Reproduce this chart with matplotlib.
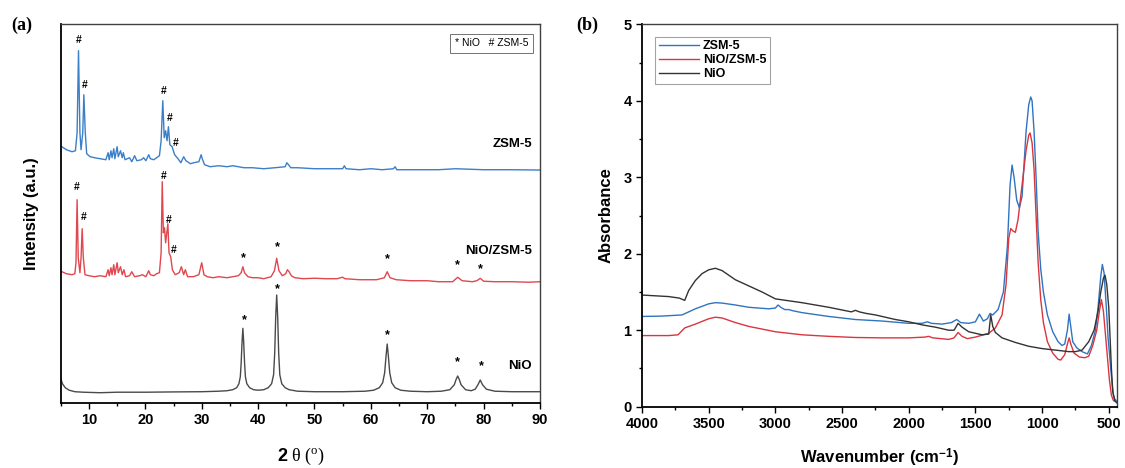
"""Two-panel figure: (a) XRD patterns, (b) FTIR spectra of ZSM-5, NiO/ZSM-5 and NiO."""
import numpy as np
import matplotlib
matplotlib.use("Agg")
import matplotlib.pyplot as plt
from matplotlib.ticker import MultipleLocator

plt.rcParams["font.family"] = ["Liberation Sans", "DejaVu Sans"]
plt.rcParams["mathtext.fontset"] = "custom"
plt.rcParams["mathtext.rm"] = "Liberation Serif"
plt.rcParams["mathtext.it"] = "Liberation Serif:italic"
plt.rcParams["mathtext.bf"] = "Liberation Sans:bold"

# ---------------- (a) XRD, 2theta (deg) vs intensity (a.u., stacked) ----------------
zsm_tt = [5.2, 6.0, 7.0, 7.6, 7.9, 8.15, 8.4, 8.6, 8.9, 9.1, 9.35, 9.6, 10.2, 11, 12, 13,
          13.4, 13.6, 13.9, 14.1, 14.4, 14.6, 15.0, 15.2, 15.6, 15.9, 16.1, 16.4, 17.2, 17.6,
          18.1, 18.5, 19.3, 19.7, 20.1, 20.6, 20.9, 21.5, 22.0, 22.5, 22.8, 23.1, 23.35, 23.6,
          23.85, 24.1, 24.35, 24.75, 25.2, 25.8, 26.3, 26.8, 27.2, 28, 28.6, 29.5, 29.9, 30.1,
          30.5, 31.5, 33, 34.5, 35.5, 36.5, 37.5, 39, 41, 43, 44.8, 45.1, 45.4, 45.8, 47, 50,
          52, 55, 55.3, 55.6, 58, 60, 62, 64, 64.3, 64.6, 68, 72, 75, 80, 85, 90]
zsm_i = [256, 253, 251, 252, 270, 352, 270, 253, 270, 308, 270, 249, 246, 245, 244, 243,
         250, 243, 252, 245, 254, 244, 256, 246, 252, 245, 250, 243, 245, 241,
         247, 242, 243, 245, 242, 248, 244, 243, 245, 247, 262, 302, 265, 272,
         262, 276, 258, 256, 248, 244, 240, 246, 242, 239, 240, 241, 248, 244,
         238, 236, 237, 236, 237, 236, 235, 235, 234, 235, 236, 240, 238, 235, 235, 234,
         234, 234, 237, 234, 233, 234, 233, 234, 236, 233, 233, 233, 234, 233, 233, 232.7]

nz_tt = [5.2, 6.0, 7.0, 7.5, 7.7, 7.9, 8.1, 8.4, 8.6, 8.8, 9.0, 9.3, 10, 11, 12, 13,
         13.4, 13.6, 13.9, 14.1, 14.4, 14.6, 15.0, 15.2, 15.6, 15.9, 16.2, 16.5, 17.2, 17.6,
         18.1, 19, 19.5, 20.1, 20.6, 20.9, 21.5, 22.0, 22.5, 22.8, 23.0, 23.2, 23.4, 23.6,
         24.0, 24.2, 24.5, 24.8, 25.3, 26, 26.4, 26.8, 27.1, 27.5, 28.5, 29.5, 30.0, 30.4,
         31, 32, 33, 34.5, 35.5, 36.5, 37.0, 37.3, 37.6, 38.2, 39, 40, 41, 42.3, 42.9, 43.3,
         43.7, 44.3, 44.9, 45.2, 45.5, 45.9, 46.5, 48, 50, 52, 54, 55, 55.4, 58, 61, 62.4,
         62.9, 63.4, 64.5, 67, 70, 72, 74.5, 75.4, 76.2, 78, 78.8, 79.4, 80, 82, 85, 88, 90]
nz_i = [131, 129, 128, 129, 140, 203, 145, 130, 145, 174, 145, 128, 127, 126, 127, 126,
        133, 127, 135, 128, 138, 128, 140, 130, 136, 128, 133, 126, 127, 131,
        126, 127, 128, 126, 132, 128, 127, 129, 130, 150, 221, 170, 175, 160,
        179, 150, 146, 133, 128, 130, 136, 128, 133, 126, 126, 128, 140, 128,
        126, 125, 126, 125, 126, 127, 130, 136, 130, 126, 125, 125, 124, 126, 132, 144.4,
        132, 127, 129, 133, 131, 127, 125, 124, 124.5, 124, 124, 125.5, 124, 123, 123, 125,
        131, 125, 123, 122, 122, 121, 121, 125.4, 122, 121, 122, 124.4, 121.5, 121, 121, 120.5, 121]

nio_tt = [5.0, 5.3, 5.8, 6.5, 7.5, 9, 12, 15, 20, 25, 30, 33, 34.5, 35.5, 36.2, 36.6, 36.85,
          37.0, 37.15, 37.3, 37.45, 37.6, 37.75, 38.0, 38.5, 39.2, 40, 41, 41.8, 42.4, 42.75,
          42.95, 43.12, 43.3, 43.48, 43.65, 43.85, 44.2, 44.8, 45.5, 47, 50, 55, 59, 60.5,
          61.5, 62.1, 62.45, 62.7, 62.9, 63.1, 63.35, 63.7, 64.3, 65.3, 67, 70, 72.5, 74,
          74.8, 75.1, 75.4, 75.7, 76.0, 76.8, 77.8, 78.5, 79.0, 79.4, 79.8, 80.5, 82, 85, 90]
nio_i = [24, 19, 15, 12.5, 11, 10.5, 10, 10.5, 10.5, 10.8, 11, 11.5, 12, 13, 15, 19, 26,
         40, 60, 74.4, 60, 40, 26, 19, 15, 13, 12.5, 13, 15, 19, 28,
         50, 85, 107.7, 85, 50, 28, 19, 15, 13, 11.5, 11, 11, 11.5, 12.5,
         15, 20, 30, 47, 58.7, 47, 30, 20, 15, 12.5, 11.5, 11, 11.5, 13,
         18, 23, 26.7, 23, 18, 13, 12, 13.5, 18, 22.7, 18, 13.5, 11.5, 11, 11]

# peak markers: (2theta, height, symbol)
zsm_marks = [(8.2, 363, "#"), (9.3, 318, "#"), (23.3, 312, "#"), (24.3, 285, "#"), (25.3, 260, "#")]
nz_marks = [(7.9, 216, "#"), (9.0, 186, "#"), (23.2, 227, "#"), (24.2, 183, "#"), (25.0, 153, "#"),
            (37.4, 145, "*"), (43.4, 156, "*"), (62.9, 144, "*"), (75.4, 138, "*"), (79.4, 134, "*")]
nio_marks = [(37.5, 83, "*"), (43.4, 114, "*"), (62.9, 68, "*"), (75.4, 41, "*"), (79.6, 37, "*")]

# ---------------- (b) FTIR, wavenumber (cm-1) vs absorbance ----------------
ir_zsm_wn = [4000, 3850, 3700, 3600, 3500, 3450, 3400, 3300, 3200, 3050, 3000, 2980, 2960, 2930,
             2900, 2870, 2800, 2600, 2400, 2200, 2000, 1900, 1860, 1830, 1750, 1680, 1640, 1610,
             1550, 1500, 1470, 1440, 1410, 1390, 1370, 1330, 1290, 1260, 1240, 1225, 1210, 1190,
             1170, 1150, 1120, 1100, 1085, 1075, 1060, 1045, 1030, 1010, 990, 960, 920, 880, 850,
             830, 810, 797, 785, 770, 740, 700, 660, 630, 600, 580, 560, 548, 535, 520, 505, 490,
             475, 465, 455, 440]
ir_zsm_a = [1.18, 1.185, 1.20, 1.28, 1.345, 1.36, 1.355, 1.33, 1.30, 1.28, 1.29, 1.33, 1.30, 1.27,
            1.27, 1.255, 1.23, 1.18, 1.14, 1.12, 1.09, 1.09, 1.11, 1.09, 1.08, 1.10, 1.14, 1.10,
            1.09, 1.11, 1.21, 1.12, 1.15, 1.22, 1.20, 1.27, 1.5, 2.1, 2.9, 3.16, 3.0, 2.7,
            2.6, 2.75, 3.6, 3.95, 4.05, 4.0, 3.6, 3.0, 2.3, 1.8, 1.5, 1.2, 0.98, 0.85, 0.8,
            0.82, 1.0, 1.21, 1.05, 0.85, 0.77, 0.72, 0.69, 0.8, 1.0, 1.3, 1.7, 1.86, 1.75, 1.35, 0.9, 0.6,
            0.3, 0.15, 0.1, 0.07]

ir_nz_wn = [4000, 3800, 3730, 3680, 3600, 3500, 3450, 3400, 3300, 3200, 3000, 2800, 2600, 2400,
            2200, 2000, 1880, 1850, 1820, 1700, 1660, 1630, 1600, 1560, 1500, 1400, 1350, 1300,
            1270, 1250, 1235, 1220, 1200, 1180, 1150, 1120, 1100, 1090, 1075, 1060, 1045, 1030,
            1010, 990, 960, 920, 880, 860, 830, 810, 797, 785, 760, 720, 680, 650, 620, 590, 570,
            555, 540, 525, 510, 495, 480, 465, 440]
ir_nz_a = [0.93, 0.93, 0.94, 1.03, 1.08, 1.15, 1.17, 1.16, 1.10, 1.05, 0.98, 0.94, 0.92, 0.905,
           0.90, 0.90, 0.91, 0.92, 0.90, 0.88, 0.90, 0.97, 0.92, 0.89, 0.91, 0.96, 1.03, 1.2,
           1.6, 2.2, 2.33, 2.3, 2.28, 2.45, 2.9, 3.35, 3.55, 3.58, 3.45, 3.1, 2.5, 1.9,
           1.4, 1.1, 0.85, 0.7, 0.62, 0.61, 0.68, 0.82, 0.90, 0.82, 0.70, 0.65, 0.64, 0.66, 0.8, 1.0, 1.25,
           1.40, 1.25, 0.95, 0.65, 0.35, 0.15, 0.08, 0.06]

ir_nio_wn = [4000, 3900, 3800, 3720, 3680, 3650, 3600, 3550, 3500, 3450, 3400, 3350, 3300, 3200,
             3100, 3000, 2800, 2600, 2430, 2400, 2370, 2320, 2250, 2100, 2000, 1900, 1800, 1700,
             1660, 1630, 1600, 1550, 1450, 1400, 1385, 1370, 1350, 1300, 1200, 1100, 1000, 900,
             800, 750, 700, 650, 610, 580, 560, 540, 528, 515, 500, 490, 480, 470, 455, 440]
ir_nio_a = [1.46, 1.45, 1.44, 1.42, 1.39, 1.52, 1.65, 1.74, 1.79, 1.81, 1.78, 1.72, 1.66, 1.58,
            1.50, 1.41, 1.36, 1.30, 1.24, 1.26, 1.24, 1.22, 1.20, 1.14, 1.11, 1.07, 1.04, 1.00,
            1.00, 1.09, 1.04, 0.98, 0.94, 0.95, 1.20, 1.05, 0.97, 0.90, 0.84, 0.79, 0.76, 0.74,
            0.72, 0.72, 0.74, 0.85, 1.0, 1.25, 1.5, 1.68, 1.72, 1.6, 1.3, 0.9, 0.5, 0.2, 0.08, 0.05]

BLUE, RED, GREY = "#3b7fc8", "#e0474e", "#4a4a4a"
IR_BLUE, IR_RED, IR_BLACK = "#2f74c0", "#d9363e", "#333333"

fig = plt.figure(figsize=(11.25, 4.68), dpi=100)
axa = fig.add_axes([0.054, 0.1395, 0.426, 0.8085])
axb = fig.add_axes([0.5707, 0.131, 0.4222, 0.817])

# ---- panel (a)
axa.plot(zsm_tt, zsm_i, color=BLUE, lw=1.0)
axa.plot(nz_tt, nz_i, color=RED, lw=1.0)
axa.plot(nio_tt, nio_i, color=GREY, lw=1.0)
for marks in (zsm_marks, nz_marks, nio_marks):
    for t, h, s in marks:
        axa.text(t, h, s, ha="center", va="center", fontsize=7.5 if s == "#" else 9,
                 fontweight="bold")
axa.text(88.6, 259, "ZSM-5", ha="right", va="center", fontsize=9.5, fontweight="bold")
axa.text(88.6, 152, "NiO/ZSM-5", ha="right", va="center", fontsize=9.5, fontweight="bold")
axa.text(88.6, 37, "NiO", ha="right", va="center", fontsize=9.5, fontweight="bold")
axa.text(0.975, 0.95, "* NiO   # ZSM-5", transform=axa.transAxes, ha="right", va="center",
         fontsize=7.5, bbox=dict(boxstyle="square,pad=0.45", fc="white", ec="0.45", lw=0.7))

axa.set_xlim(5, 90)
axa.set_ylim(0, 378.4)
axa.set_yticks([])
axa.xaxis.set_major_locator(MultipleLocator(10))
axa.xaxis.set_minor_locator(MultipleLocator(5))
axa.set_xlabel(r"$\mathbf{2}\ \mathrm{\theta}\ (^{\mathrm{o}})$", fontsize=13)
axa.xaxis.set_label_coords(0.5, -0.115)
axa.set_ylabel("Intensity (a.u.)", fontsize=12, fontweight="bold")
axa.yaxis.set_label_coords(-0.045, 0.5)

# ---- panel (b)
axb.plot(ir_zsm_wn, ir_zsm_a, color=IR_BLUE, lw=1.0, label="ZSM-5")
axb.plot(ir_nz_wn, ir_nz_a, color=IR_RED, lw=1.0, label="NiO/ZSM-5")
axb.plot(ir_nio_wn, ir_nio_a, color=IR_BLACK, lw=1.0, label="NiO")
axb.set_xlim(4000, 438)
axb.set_ylim(0, 5)
axb.xaxis.set_major_locator(MultipleLocator(500))
axb.xaxis.set_minor_locator(MultipleLocator(250))
axb.yaxis.set_major_locator(MultipleLocator(1))
axb.yaxis.set_minor_locator(MultipleLocator(0.5))
axb.set_xlabel(r"Wavenumber (cm$^{\mathbf{-1}}$)", fontsize=12, fontweight="bold")
axb.xaxis.set_label_coords(0.5, -0.105)
axb.set_ylabel("Absorbance", fontsize=12, fontweight="bold")
axb.yaxis.set_label_coords(-0.059, 0.5)
leg = axb.legend(loc="upper left", bbox_to_anchor=(0.028, 0.968), fontsize=9, frameon=True,
                 fancybox=False, edgecolor="0.55", handlelength=3.2, handletextpad=0.3,
                 labelspacing=0.15, borderpad=0.3, borderaxespad=0)
leg.get_frame().set_linewidth(0.8)
for t in leg.get_texts():
    t.set_fontweight("bold")

for a in (axa, axb):
    a.tick_params(which="major", direction="out", length=4, width=1.0, labelsize=10.5)
    a.tick_params(which="minor", direction="out", length=2.4, width=1.0)
    for lab in a.get_xticklabels() + a.get_yticklabels():
        lab.set_fontweight("bold")
    for sp in a.spines.values():
        sp.set_linewidth(1.0)
        sp.set_color("0.25")
    a.spines["left"].set_color("black")
    a.spines["bottom"].set_color("black")
    a.spines["left"].set_linewidth(1.3)
    a.spines["bottom"].set_linewidth(1.3)

fig.text(0.0098, 0.945, "(a)", fontsize=13, fontweight="bold", family="Liberation Serif",
         ha="left", va="center")
fig.text(0.512, 0.945, "(b)", fontsize=13, fontweight="bold", family="Liberation Serif",
         ha="left", va="center")

fig.savefig("out.png", dpi=100)
